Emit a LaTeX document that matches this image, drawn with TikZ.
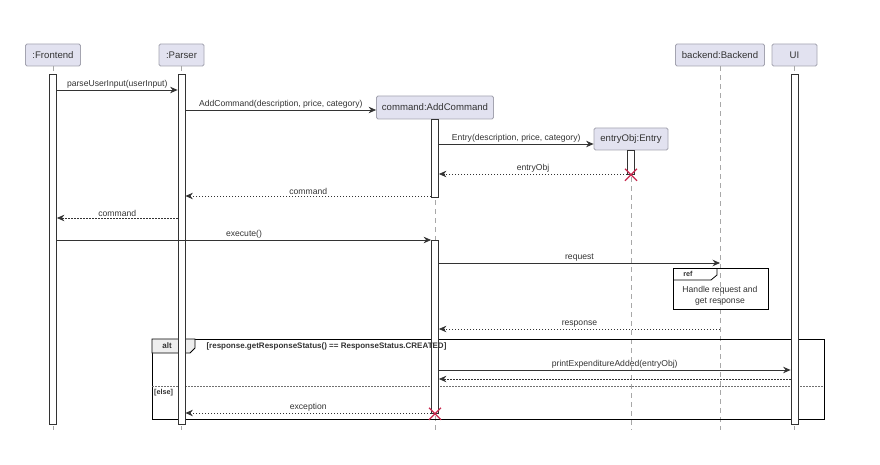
\documentclass[tikz,border=0pt]{standalone}
\usepackage{fontspec}
\setmainfont{Liberation Sans}
\usetikzlibrary{arrows.meta,positioning}
\definecolor{PartFill}{HTML}{E2E2F0}
\definecolor{PartLine}{HTML}{A4A4B0}
\definecolor{LifeGray}{HTML}{A8A8A8}
\definecolor{Ink}{HTML}{333333}
\definecolor{KillRed}{HTML}{C8284E}
\definecolor{TabGray}{HTML}{EEEEEE}

\begin{document}
\begin{tikzpicture}[x=1pt,y=-1pt,
    every node/.style={font=\fontsize{8.6}{10}\selectfont,text=Ink},
    part/.style={draw=PartLine,fill=PartFill,line width=0.8pt,rounded corners=1.5pt,
      minimum height=22pt,inner sep=2pt,font=\fontsize{9.6}{11}\selectfont},
    actbar/.style={draw=Ink,fill=white,line width=0.8pt,minimum width=7pt,inner sep=0pt,anchor=north},
    life/.style={LifeGray,line width=0.7pt,dash pattern=on 5pt off 4pt},
    call/.style={-{Stealth[length=7.5pt,width=6.5pt,inset=2.5pt]},Ink,line width=0.8pt},
    reply/.style={call,dash pattern=on 1.5pt off 1.5pt},
    lbl/.style={above,inner sep=1.5pt},
    kill/.style={KillRed,line width=1.2pt},
    frame/.style={draw=black,line width=1pt},
    fbold/.style={font=\fontsize{7.2}{9}\selectfont\bfseries}]
    \useasboundingbox (0,0) rectangle (880,465);

    % participants
    \node[part,minimum width=55pt] (fe) at (53,55) {:Frontend};
    \node[part,minimum width=45pt] (ps) at (181.5,55) {:Parser};
    \node[part,minimum width=117pt,minimum height=23pt] (ac) at (435,107.5) {command:AddCommand};
    \node[part,minimum width=74pt] (en) at (631,139) {entryObj:Entry};
    \node[part,minimum width=89pt] (be) at (720,55) {backend:Backend};
    \node[part,minimum width=45pt] (ui) at (794.5,55) {UI};

    % lifelines
    \coordinate (bottom) at (0,430);
    \foreach \p in {fe,ps,ac,en,be,ui}
      \draw[life] (\p.south) -- (\p.south |- bottom);

    % alt frame
    \draw[frame] (152,339) rectangle (824,419);
    \draw[frame,line width=0.8pt,fill=TabGray] (152,339) -- (195,339) -- (195,348) -- (190,353) -- (152,353) -- cycle;
    \node[font=\fontsize{8}{9}\selectfont\bfseries] (altTag) at (167,346) {alt};
    \draw[Ink!70,line width=0.6pt,dash pattern=on 1.5pt off 1.5pt] (152,386) -- (824,386);
    \node[fbold,anchor=west,inner sep=1pt] (elseTag) at (153,393) {[else]};

    % activation bars
    \node[actbar,minimum height=350pt] (feBar) at (53,74) {};
    \node[actbar,minimum height=350pt] (psBar) at (181.5,74) {};
    \node[actbar,minimum height=78pt] (acBarA) at (435,119) {};
    \node[actbar,minimum height=173pt] (acBarB) at (435,240) {};
    \node[actbar,minimum height=24pt] (enBar) at (631,150) {};
    \node[actbar,minimum height=350pt] (uiBar) at (794.5,74) {};

    \node[fbold,font=\fontsize{8}{9}\selectfont\bfseries,anchor=west] (guard) at (203,346.5) {[response.getResponseStatus() == ResponseStatus.CREATED]};

    % message rows
    \foreach \n/\y in {1/90,2/110,3/144,4/174,5/196,6/218,7/240,8/263,9/329,10/370,11/379,12/413}
      \coordinate (m\n) at (0,\y);

    \draw[call] (feBar.east |- m1) -- node[lbl] {parseUserInput(userInput)} (psBar.west |- m1);
    \draw[call] (psBar.east |- m2) -- node[lbl] {AddCommand(description, price, category)} (ac.west |- m2);
    \draw[call] (acBarA.east |- m3) -- node[lbl] {Entry(description, price, category)} (en.west |- m3);
    \draw[reply] (enBar.west |- m4) -- node[lbl] {entryObj} (acBarA.east |- m4);
    \draw[reply] (acBarA.west |- m5) -- node[lbl] {command} (psBar.east |- m5);
    \draw[reply] (psBar.west |- m6) -- node[lbl] {command} (feBar.east |- m6);
    \draw[call] (feBar.east |- m7) -- node[lbl] {execute()} (acBarB.west |- m7);
    \draw[call] (acBarB.east |- m8) -- node[lbl] {request} (be.south |- m8);
    \draw[reply] (be.south |- m9) -- node[lbl] {response} (acBarB.east |- m9);
    \draw[call] (acBarB.east |- m10) -- node[lbl] {printExpenditureAdded(entryObj)} (uiBar.west |- m10);
    \draw[reply] (uiBar.west |- m11) -- (acBarB.east |- m11);
    \draw[reply] (acBarB.west |- m12) -- node[lbl] {exception} (psBar.east |- m12);

    % ref frame
    \draw[frame] (673,268) rectangle (768,309);
    \draw[frame,line width=0.8pt] (673,280) -- (711,280) -- (717,275) -- (717,268);
    \node[fbold] (refTag) at (688,274) {ref};
    \node[align=center,font=\fontsize{8.6}{11}\selectfont] (refTxt) at (720,295.5)
      {Handle request and\\get response};

    % destroyed objects
    \draw[kill] (enBar.south) +(-6,-6) -- +(6,6) +(-6,6) -- +(6,-6);
    \draw[kill] (acBarB.south) +(-6,-6) -- +(6,6) +(-6,6) -- +(6,-6);
  \end{tikzpicture}
\end{document}
